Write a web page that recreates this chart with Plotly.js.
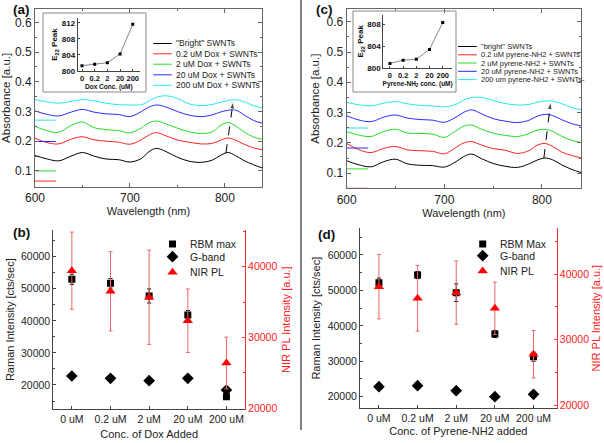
<!DOCTYPE html>
<html><head><meta charset="utf-8">
<script src="https://cdn.plot.ly/plotly-3.0.1.min.js"></script>
<style>html,body{margin:0;padding:0;background:#fff}#chart{width:604px;height:443px}</style>
</head><body><div id="chart"></div>
<script>
// ---------- data ----------
const wavelength = [600,612,625,638,650,662,675,688,700,712,720,728,738,750,762,775,787,795,803,811,820,830,840];
// panel (a) Dox spectra
const doxBright = [0.152,0.141,0.134,0.150,0.162,0.150,0.140,0.138,0.130,0.142,0.165,0.176,0.165,0.146,0.133,0.129,0.137,0.152,0.162,0.152,0.135,0.121,0.109];
const dox02     = [0.210,0.196,0.191,0.207,0.215,0.205,0.200,0.197,0.190,0.205,0.221,0.229,0.218,0.204,0.197,0.191,0.193,0.203,0.211,0.204,0.190,0.178,0.171];
const dox2      = [0.250,0.236,0.230,0.253,0.265,0.246,0.239,0.236,0.228,0.245,0.262,0.268,0.258,0.244,0.232,0.226,0.232,0.252,0.263,0.252,0.232,0.214,0.206];
const dox20     = [0.302,0.291,0.285,0.298,0.307,0.298,0.292,0.290,0.283,0.300,0.315,0.322,0.315,0.300,0.288,0.283,0.289,0.298,0.304,0.305,0.289,0.270,0.260];
const dox200    = [0.340,0.333,0.328,0.334,0.340,0.336,0.328,0.323,0.322,0.323,0.335,0.348,0.353,0.344,0.326,0.320,0.324,0.331,0.337,0.340,0.333,0.320,0.311];
// panel (c) pyrene-NH2 spectra
const pyrBright = [0.141,0.128,0.121,0.138,0.146,0.131,0.126,0.125,0.120,0.138,0.155,0.163,0.148,0.132,0.123,0.119,0.131,0.143,0.150,0.144,0.128,0.113,0.102];
const pyr02     = [0.198,0.178,0.168,0.182,0.188,0.177,0.174,0.172,0.164,0.185,0.200,0.204,0.193,0.181,0.176,0.165,0.175,0.192,0.198,0.188,0.170,0.159,0.150];
const pyr2      = [0.237,0.226,0.221,0.238,0.245,0.233,0.231,0.229,0.218,0.240,0.255,0.259,0.245,0.232,0.225,0.221,0.231,0.242,0.245,0.238,0.222,0.209,0.201];
const pyr20     = [0.289,0.276,0.270,0.285,0.292,0.282,0.277,0.275,0.268,0.285,0.301,0.309,0.296,0.280,0.272,0.267,0.275,0.288,0.294,0.290,0.277,0.264,0.256];
const pyr200    = [0.334,0.326,0.322,0.331,0.336,0.329,0.324,0.322,0.319,0.327,0.342,0.350,0.350,0.340,0.330,0.325,0.327,0.334,0.338,0.338,0.330,0.317,0.309];
// short stray segments at left edge (red, green, blue, cyan)
const stubWl = [600, 622];
const stubDox = [0.066, 0.100, 0.199, 0.271];
const stubPyr = [0.050, 0.114, 0.183, 0.249];
// legend labels
const doxNames = ['"Bright" SWNTs','0.2 uM Dox + SWNTs','2 uM Dox + SWNTs','20 uM Dox + SWNTs','200 uM Dox + SWNTs'];
const pyrNames = ['"bright" SWNTs','0.2 uM pyrene-NH2 + SWNTs','2 uM pyrene-NH2 + SWNTs','20 uM pyrene-NH2 + SWNTs','200 um pyrene-NH2 + SWNTs-'];
// insets: E22 peak position
const insetConc = ['0','0.2','2','20','200'];
const e22Dox = [801.25, 801.6, 802.0, 804.2, 811.6];
const e22Pyr = [800.8, 801.4, 801.55, 803.4, 808.4];
// arrows (nm, absorbance): base -> head
const arrowDoxX = [801, 808.7];
const arrowDoxY = [0.160, 0.334];
const arrowPyrX = [802, 808.9];
const arrowPyrY = [0.150, 0.335];
// panels (b),(d)
const concLabels = ['0 uM','0.2 uM','2 uM','20 uM','200 uM'];
const rbmDox = [52950, 51710, 47750, 41820, 16350];
const rbmDoxErr = [1600, 1500, 2200, 1400, 600];
const gbandDox = [22800, 22090, 21340, 22090, 18440];
const nirDox = [39435, 36520, 35680, 32370, 26400];
const nirDoxErr = [5450, 5600, 6650, 4480, 3650];
const rbmPyr = [52180, 54350, 49360, 37700, 31290];
const rbmPyrErr = [1300, 1000, 2500, 1000, 1300];
const gbandPyr = [22820, 23110, 21700, 20000, 20680];
const nirPyr = [38100, 36330, 37190, 34800, 27760];
const nirPyrErr = [4920, 5025, 4840, 4000, 3620];

// ---------- helpers ----------
const W = 604, H = 443;
const px = v => v / W;
const py = v => 1 - v / H;
const FONT = 'Arial, "Liberation Sans", sans-serif';
const colors = ['#000000', '#ff2020', '#22dd22', '#2a2aff', '#22e8e8'];
const stubColors = ['#ff2020', '#22dd22', '#2a2aff', '#22e8e8'];

const traces = [];
const specA = [doxBright, dox02, dox2, dox20, dox200];
const specC = [pyrBright, pyr02, pyr2, pyr20, pyr200];
specA.forEach((s, i) => traces.push({x: wavelength, y: s, xaxis: 'x', yaxis: 'y', type: 'scatter', mode: 'lines',
  name: doxNames[i], line: {color: colors[i], width: 1, shape: 'spline', smoothing: 1}, showlegend: false, hoverinfo: 'skip'}));
specC.forEach((s, i) => traces.push({x: wavelength, y: s, xaxis: 'x2', yaxis: 'y2', type: 'scatter', mode: 'lines',
  name: pyrNames[i], line: {color: colors[i], width: 1, shape: 'spline', smoothing: 1}, showlegend: false, hoverinfo: 'skip'}));
stubDox.forEach((v, i) => traces.push({x: stubWl, y: [v, v], xaxis: 'x', yaxis: 'y', mode: 'lines',
  line: {color: stubColors[i], width: 1}, showlegend: false, hoverinfo: 'skip'}));
stubPyr.forEach((v, i) => traces.push({x: stubWl, y: [v, v], xaxis: 'x2', yaxis: 'y2', mode: 'lines',
  line: {color: stubColors[i], width: 1}, showlegend: false, hoverinfo: 'skip'}));

// dashed arrows with arrow-head marker at the end
[[arrowDoxX, arrowDoxY, 'x', 'y'], [arrowPyrX, arrowPyrY, 'x2', 'y2']].forEach(([ax, ay, xa, ya]) =>
  traces.push({x: ax, y: ay, xaxis: xa, yaxis: ya, mode: 'lines+markers',
    line: {color: '#000', width: 1, dash: 'dash'},
    marker: {symbol: 'arrow', angleref: 'previous', size: [0, 8], color: '#000'},
    showlegend: false, hoverinfo: 'skip'}));

// insets
traces.push({x: insetConc, y: e22Dox, xaxis: 'x5', yaxis: 'y7', mode: 'lines+markers',
  line: {color: '#666', width: 0.8}, marker: {symbol: 'square', size: 3, color: '#000'}, showlegend: false});
traces.push({x: insetConc, y: e22Pyr, xaxis: 'x6', yaxis: 'y8', mode: 'lines+markers',
  line: {color: '#666', width: 0.8}, marker: {symbol: 'square', size: 3, color: '#000'}, showlegend: false});

// panel b/d
function raman(xa, yl, yr, rbm, rbmErr, gb, nir, nirErr) {
  traces.push({x: concLabels, y: rbm, xaxis: xa, yaxis: yl, mode: 'markers', name: 'RBM',
    error_y: {type: 'data', array: rbmErr, color: '#000', thickness: 1, width: 2},
    marker: {symbol: 'square', size: 7, color: '#000'}, showlegend: false});
  traces.push({x: concLabels, y: gb, xaxis: xa, yaxis: yl, mode: 'markers', name: 'G-band',
    marker: {symbol: 'diamond', size: 9, color: '#000'}, showlegend: false});
  traces.push({x: concLabels, y: nir, xaxis: xa, yaxis: yr, mode: 'markers', name: 'NIR PL',
    error_y: {type: 'data', array: nirErr, color: '#e86a6a', thickness: 1, width: 2},
    marker: {symbol: 'triangle-up', size: 9, color: '#ff0000'}, showlegend: false});
}
raman('x3', 'y3', 'y4', rbmDox, rbmDoxErr, gbandDox, nirDox, nirDoxErr);
raman('x4', 'y5', 'y6', rbmPyr, rbmPyrErr, gbandPyr, nirPyr, nirPyrErr);

// legend glyphs on a pixel overlay axis
const legA = {x0: 153.3, x1: 171.7, tx: 173.5, ys: [43.5, 53.8, 64.2, 74.8, 85.3]};
const legC = {x0: 458, x1: 476.7, tx: 478.5, ys: [46.5, 54.8, 63.0, 71.3, 79.6]};
[legA, legC].forEach(L => L.ys.forEach((yy, i) => traces.push({x: [L.x0, L.x1], y: [yy, yy], xaxis: 'x7', yaxis: 'y9',
  mode: 'lines', line: {color: colors[i], width: 1}, showlegend: false, hoverinfo: 'skip'})));
const mkLeg = [
  {x: 172.5, ys: [244, 256.7, 272.3]},
  {x: 482.7, ys: [244, 255.7, 271]}
];
const mkSym = ['square', 'diamond', 'triangle-up'];
const mkCol = ['#000', '#000', '#ff0000'];
const mkSize = [7, 9, 9];
mkLeg.forEach(L => L.ys.forEach((yy, i) => traces.push({x: [L.x], y: [yy], xaxis: 'x7', yaxis: 'y9', mode: 'markers',
  marker: {symbol: mkSym[i], size: mkSize[i], color: mkCol[i]}, showlegend: false, hoverinfo: 'skip'})));

// ---------- layout ----------
const frameAxis = (extra) => Object.assign({
  showline: true, linecolor: '#666', linewidth: 1, mirror: 'ticks', ticks: 'inside', ticklen: 4, tickcolor: '#666',
  showgrid: false, zeroline: false, tickfont: {family: FONT, size: 12, color: '#222'}
}, extra);
const ramanAxis = (extra) => Object.assign({
  showline: true, linecolor: '#444', linewidth: 1, ticks: 'inside', ticklen: 3, tickcolor: '#444',
  showgrid: false, zeroline: false, tickformat: 'd', tickfont: {family: FONT, size: 10.5, color: '#222'}
}, extra);
const insetAxis = (extra) => Object.assign({
  showline: true, linecolor: '#444', linewidth: 1, ticks: 'inside', ticklen: 2, tickcolor: '#444',
  showgrid: false, zeroline: false, tickangle: 0, tickfont: {family: FONT, size: 7.5, color: '#111', weight: 'bold'}
}, extra);

const layout = {
  width: W, height: H, margin: {l: 0, r: 0, t: 0, b: 0},
  paper_bgcolor: '#fff', plot_bgcolor: 'rgba(0,0,0,0)', showlegend: false,
  font: {family: FONT, color: '#222'},
  xaxis: frameAxis({domain: [px(35), px(262)], anchor: 'y', range: [600, 839], tick0: 0, dtick: 100,
    minor: {dtick: 50, ticks: 'inside', ticklen: 2, tickcolor: '#666'},
    title: {text: 'Wavelength (nm)', font: {size: 11, color: '#222'}, standoff: 0}}),
  yaxis: frameAxis({domain: [py(186.7), py(9)], anchor: 'x', range: [0.047, 0.645], tick0: 0, dtick: 0.1,
    minor: {dtick: 0.05, ticks: 'inside', ticklen: 2, tickcolor: '#666'},
    title: {text: 'Absorbance [a.u.]', font: {size: 11.5, color: '#222'}, standoff: 4}}),
  xaxis2: frameAxis({domain: [px(346.7), px(581)], anchor: 'y2', range: [600, 840], tick0: 0, dtick: 100,
    minor: {dtick: 50, ticks: 'inside', ticklen: 2, tickcolor: '#666'},
    title: {text: 'Wavelength (nm)', font: {size: 11, color: '#222'}, standoff: 0}}),
  yaxis2: frameAxis({domain: [py(188.3), py(9)], anchor: 'x2', range: [0.05, 0.642], tick0: 0, dtick: 0.1,
    minor: {dtick: 0.05, ticks: 'inside', ticklen: 2, tickcolor: '#666'},
    title: {text: 'Absorbance [a.u.]', font: {size: 11.5, color: '#222'}, standoff: 4}}),
  xaxis3: ramanAxis({domain: [px(53.3), px(245)], anchor: 'y3', type: 'category', range: [-0.48, 4.48],
    title: {text: 'Conc. of Dox Added', font: {size: 11, color: '#222'}, standoff: 6}}),
  yaxis3: ramanAxis({domain: [py(409.3), py(230)], anchor: 'x3', range: [12420, 68320], tick0: 0, dtick: 10000,
    minor: {dtick: 5000, ticks: 'inside', ticklen: 2, tickcolor: '#444'},
    title: {text: 'Raman Intensity [cts/sec]', font: {size: 11, color: '#222'}, standoff: 4}}),
  yaxis4: ramanAxis({overlaying: 'y3', anchor: 'x3', side: 'right', range: [19860, 45180], tick0: 0, dtick: 10000,
    linecolor: '#ff3030', tickcolor: '#ff3030', tickfont: {family: FONT, size: 10.5, color: '#ff2020'},
    minor: {dtick: 5000, ticks: 'inside', ticklen: 2, tickcolor: '#ff3030'},
    title: {text: 'NIR PL Intensity [a.u.]', font: {size: 11, color: '#ff2020'}, standoff: 5}}),
  xaxis4: ramanAxis({domain: [px(360), px(556.7)], anchor: 'y5', type: 'category', range: [-0.49, 4.6],
    title: {text: 'Conc. of Pyrene-NH2 added', font: {size: 11, color: '#222'}, standoff: 4}}),
  yaxis5: ramanAxis({domain: [py(408.3), py(228)], anchor: 'x4', range: [16725, 67620], tick0: 0, dtick: 10000,
    minor: {dtick: 5000, ticks: 'inside', ticklen: 2, tickcolor: '#444'},
    title: {text: 'Raman Intensity [cts/sec]', font: {size: 11, color: '#222'}, standoff: 4}}),
  yaxis6: ramanAxis({overlaying: 'y5', anchor: 'x4', side: 'right', range: [19495, 47085], tick0: 0, dtick: 10000,
    linecolor: '#ff3030', tickcolor: '#ff3030', tickfont: {family: FONT, size: 10.5, color: '#ff2020'},
    minor: {dtick: 5000, ticks: 'inside', ticklen: 2, tickcolor: '#ff3030'},
    title: {text: 'NIR PL Intensity [a.u.]', font: {size: 11, color: '#ff2020'}, standoff: 4}}),
  xaxis5: insetAxis({domain: [px(77.7), px(140)], anchor: 'y7', type: 'category', range: [-0.34, 4.57],
    title: {text: 'Dox Conc. (uM)', font: {size: 6.5, color: '#111', weight: 'bold'}, standoff: 1}}),
  yaxis7: insetAxis({domain: [py(70.7), py(18.3)], anchor: 'x5', range: [800, 813.1], tick0: 800, dtick: 4,
    tickfont: {family: FONT, size: 8, color: '#111', weight: 'bold'},
    title: {text: 'E<sub>22</sub> Peak', font: {size: 8, color: '#111', weight: 'bold'}, standoff: 2}}),
  xaxis6: insetAxis({domain: [px(383.3), px(452)], anchor: 'y8', type: 'category', range: [-0.5, 4.7],
    title: {text: 'Pyrene-NH<sub>2</sub> conc. (uM)', font: {size: 6.5, color: '#111', weight: 'bold'}, standoff: 1}}),
  yaxis8: insetAxis({domain: [py(67.7), py(15)], anchor: 'x6', range: [800, 809.8], tick0: 800, dtick: 4,
    tickfont: {family: FONT, size: 8, color: '#111', weight: 'bold'},
    title: {text: 'E<sub>22</sub> Peak', font: {size: 8, color: '#111', weight: 'bold'}, standoff: 2}}),
  xaxis7: {domain: [0, 1], anchor: 'y9', range: [0, W], visible: false, fixedrange: true},
  yaxis9: {domain: [0, 1], anchor: 'x7', range: [H, 0], visible: false, fixedrange: true},
  shapes: [
    {type: 'line', xref: 'paper', yref: 'paper', x0: px(301), x1: px(301), y0: py(0), y1: py(430), line: {color: '#555', width: 1.5}},
    {type: 'rect', xref: 'paper', yref: 'paper', x0: px(43), x1: px(146), y0: py(92), y1: py(13), line: {color: '#888', width: 1}},
    {type: 'rect', xref: 'paper', yref: 'paper', x0: px(353), x1: px(456), y0: py(92), y1: py(11), line: {color: '#888', width: 1}}
  ],
  annotations: []
};

// legend texts
doxNames.forEach((t, i) => layout.annotations.push({xref: 'paper', yref: 'paper', x: px(legA.tx), y: py(legA.ys[i]),
  xanchor: 'left', yanchor: 'middle', text: t, showarrow: false, font: {family: FONT, size: 8.5, color: '#222'}}));
pyrNames.forEach((t, i) => layout.annotations.push({xref: 'paper', yref: 'paper', x: px(legC.tx), y: py(legC.ys[i]),
  xanchor: 'left', yanchor: 'middle', text: t, showarrow: false, font: {family: FONT, size: 7.5, color: '#222'}}));
const mkNames = [['RBM max', 'G-band', 'NIR PL'], ['RBM Max', 'G-band', 'NIR PL']];
mkLeg.forEach((L, k) => L.ys.forEach((yy, i) => layout.annotations.push({xref: 'paper', yref: 'paper',
  x: px(L.x + 15.5), y: py(yy), xanchor: 'left', yanchor: 'middle', text: mkNames[k][i], showarrow: false,
  font: {family: FONT, size: 10.5, color: '#222'}})));
// panel labels
[['(a)', 21, 9], ['(b)', 21.7, 232.5], ['(c)', 324, 9], ['(d)', 326, 234]].forEach(([t, x, y]) =>
  layout.annotations.push({xref: 'paper', yref: 'paper', x: px(x), y: py(y), xanchor: 'center', yanchor: 'middle',
    text: '<b>' + t + '</b>', showarrow: false, font: {family: FONT, size: 13.5, color: '#111'}}));

Plotly.newPlot('chart', traces, layout, {staticPlot: true, displayModeBar: false});
</script>
</body></html>
